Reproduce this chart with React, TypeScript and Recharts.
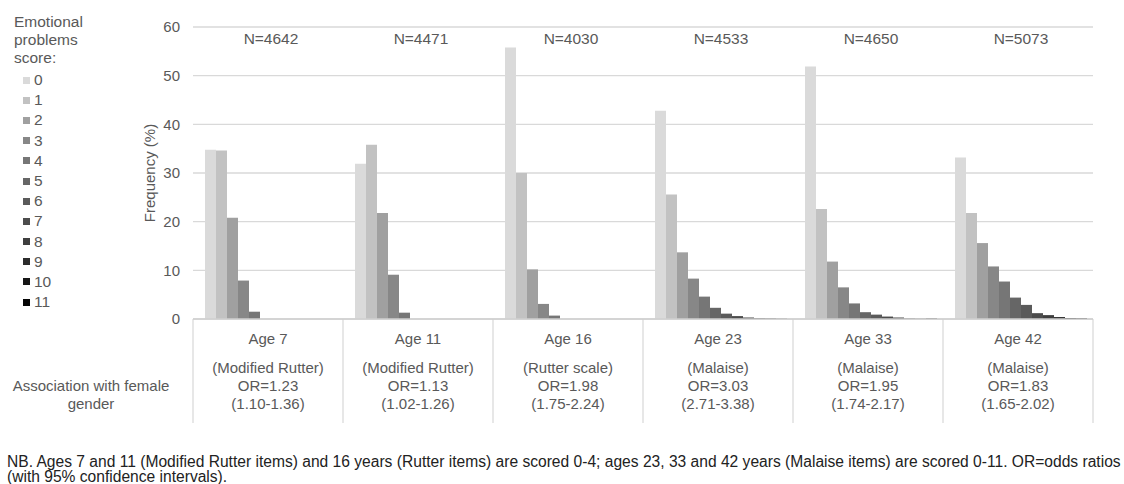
import React from 'react';
import { BarChart, Bar, XAxis, YAxis, CartesianGrid } from 'recharts';

const ages = ['Age 7', 'Age 11', 'Age 16', 'Age 23', 'Age 33', 'Age 42'];
const scales = ['(Modified Rutter)', '(Modified Rutter)', '(Rutter scale)', '(Malaise)', '(Malaise)', '(Malaise)'];
const orValues = ['OR=1.23', 'OR=1.13', 'OR=1.98', 'OR=3.03', 'OR=1.95', 'OR=1.83'];
const orIntervals = ['(1.10-1.36)', '(1.02-1.26)', '(1.75-2.24)', '(2.71-3.38)', '(1.74-2.17)', '(1.65-2.02)'];
const sampleSizes = ['N=4642', 'N=4471', 'N=4030', 'N=4533', 'N=4650', 'N=5073'];
const scores = ['0', '1', '2', '3', '4', '5', '6', '7', '8', '9', '10', '11'];
const yTicks = [0, 10, 20, 30, 40, 50, 60];

// Frequency (%) of each score, per age
const age7 = [34.8, 34.6, 20.8, 7.9, 1.5];
const age11 = [31.9, 35.8, 21.8, 9.1, 1.3];
const age16 = [55.8, 30.0, 10.2, 3.1, 0.7];
const age23 = [42.8, 25.6, 13.7, 8.3, 4.6, 2.3, 1.1, 0.6, 0.3, 0.15, 0.1, 0.05];
const age33 = [51.9, 22.6, 11.8, 6.5, 3.2, 1.4, 0.9, 0.5, 0.3, 0.1, 0.05, 0.1];
const age42 = [33.2, 21.8, 15.6, 10.8, 7.7, 4.4, 2.9, 1.2, 0.8, 0.4, 0.2, 0.15];
const groupValues = [age7, age11, age16, age23, age33, age42];

const scoreColors = [
  '#dadada', '#c2c2c2', '#a0a0a0', '#878787', '#767676', '#666666',
  '#5a5a5a', '#4c4c4c', '#3e3e3e', '#2c2c2c', '#161616', '#050505',
];

const data = ages.map((age, i) => {
  const row: any = { age, n: sampleSizes[i] };
  scores.forEach((_, k) => {
    const v = groupValues[i][k];
    row['s' + k] = v === undefined ? null : v;
  });
  return row;
});

const CHART_W = 1108;
const CHART_H = 430;
const MARGIN = { top: 19, right: 23, left: 125, bottom: 15 };
const YAXIS_W = 60;
const XAXIS_H = 104;
const PLOT_W = CHART_W - MARGIN.left - MARGIN.right - YAXIS_W;
const PLOT_H = CHART_H - MARGIN.top - MARGIN.bottom - XAXIS_H;
const BAND = PLOT_W / ages.length;
const TEXT = '#595959';
const LINE = '#cfcfcf';
const FONT = '"Liberation Sans", Arial, Helvetica, sans-serif';

function TableTick(props: any) {
  const { x, y, payload } = props;
  const i = ages.indexOf(payload.value);
  const fs = 15;
  return (
    <g fontFamily={FONT} fontSize={fs} fill={TEXT}>
      <line x1={x - BAND / 2} x2={x - BAND / 2} y1={y} y2={y + XAXIS_H} stroke={LINE} strokeWidth={1} />
      {i === ages.length - 1 && (
        <line x1={x + BAND / 2} x2={x + BAND / 2} y1={y} y2={y + XAXIS_H} stroke={LINE} strokeWidth={1} />
      )}
      <text x={x + 3} y={y - PLOT_H + 17} textAnchor="middle" fontSize={15.5}>{sampleSizes[i]}</text>
      <text x={x} y={y + 25} textAnchor="middle">{ages[i]}</text>
      <text x={x} y={y + 54} textAnchor="middle">{scales[i]}</text>
      <text x={x} y={y + 72} textAnchor="middle">{orValues[i]}</text>
      <text x={x} y={y + 90} textAnchor="middle">{orIntervals[i]}</text>
      {i === 0 && (
        <g>
          <text x={x - BAND / 2 - 102} y={y + 72} textAnchor="middle">Association with female</text>
          <text x={x - BAND / 2 - 102} y={y + 90} textAnchor="middle">gender</text>
        </g>
      )}
    </g>
  );
}

function YLabel(props: any) {
  const vb = props.viewBox || {};
  const cx = vb.x + 22;
  const cy = vb.y + vb.height / 2;
  return (
    <text
      x={cx}
      y={cy}
      transform={`rotate(-90 ${cx} ${cy})`}
      textAnchor="middle"
      fontFamily={FONT}
      fontSize={15}
      fill={TEXT}
    >
      Frequency (%)
    </text>
  );
}

export default function App() {
  return (
    <div style={{ position: 'relative', width: 1124, height: 484, overflow: 'hidden', fontFamily: FONT }}>
      <style>{'html,body{margin:0;padding:0;}'}</style>
      <div style={{ position: 'absolute', left: 14, top: 13, color: TEXT, fontSize: 15.5, lineHeight: '18px' }}>
        <div>Emotional</div>
        <div>problems</div>
        <div>score:</div>
        <div style={{ marginTop: 3 }}>
          {scores.map((s, k) => (
            <div key={s} style={{ display: 'flex', alignItems: 'center', height: 20.2 }}>
              <span
                style={{
                  display: 'inline-block',
                  width: 7,
                  height: 7,
                  marginLeft: 9,
                  marginRight: 4,
                  background: scoreColors[k],
                }}
              />
              <span>{s}</span>
            </div>
          ))}
        </div>
      </div>

      <div style={{ position: 'absolute', left: 8, top: 8 }}>
        <BarChart
          width={CHART_W}
          height={CHART_H}
          data={data}
          margin={MARGIN}
          barCategoryGap={12}
          barGap={0}
        >
          <CartesianGrid vertical={false} stroke="#d9d9d9" strokeWidth={1.3} />
          <XAxis
            dataKey="age"
            height={XAXIS_H}
            interval={0}
            tickLine={false}
            tickSize={0}
            tickMargin={0}
            axisLine={{ stroke: LINE, strokeWidth: 1.3 }}
            tick={<TableTick />}
          />
          <YAxis
            width={YAXIS_W}
            domain={[0, 60]}
            ticks={yTicks}
            axisLine={false}
            tickLine={false}
            tickSize={6}
            tickMargin={7}
            tick={{ fontFamily: FONT, fontSize: 15, fill: TEXT }}
            label={<YLabel />}
          />
          {scores.map((s, k) => (
            <Bar
              key={s}
              dataKey={'s' + k}
              name={s}
              fill={scoreColors[k]}
              isAnimationActive={false}
            />
          ))}
        </BarChart>
      </div>

      <div
        style={{
          position: 'absolute',
          left: 7,
          top: 454,
          width: 1117,
          whiteSpace: 'nowrap',
          color: '#222',
          fontSize: 15.6,
          lineHeight: '15px',
        }}
      >
        <div>
          NB. Ages 7 and 11 (Modified Rutter items) and 16 years (Rutter items) are scored 0-4; ages 23, 33 and 42 years (Malaise items) are scored 0-11. OR=odds ratios
        </div>
        <div>(with 95% confidence intervals).</div>
      </div>
    </div>
  );
}
